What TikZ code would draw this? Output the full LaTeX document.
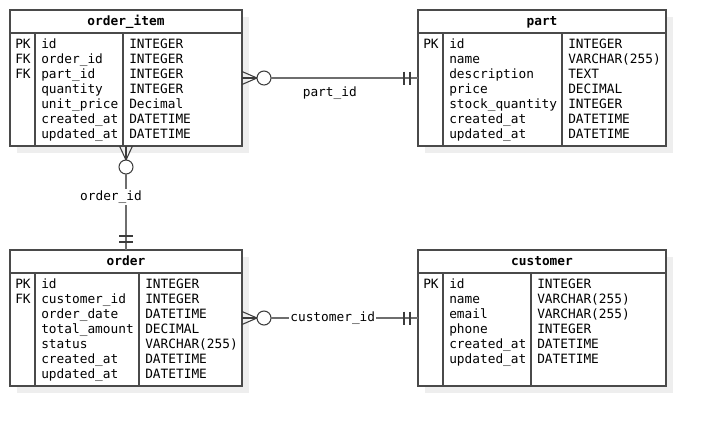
\documentclass[tikz,border=0pt]{standalone}
\usepackage{fontspec}
\setmainfont{DejaVu Sans Mono}
\usetikzlibrary{calc}
\definecolor{bordc}{HTML}{4A4A4A}
\definecolor{relc}{HTML}{6E6E6E}
\definecolor{footc}{HTML}{3C3C3C}
\definecolor{shadc}{HTML}{EEEEEE}
\tikzset{
  ebox/.style={draw=bordc, line width=1.3pt, fill=white, inner sep=0pt, outer sep=0pt, rectangle},
  ebord/.style={draw=bordc, line width=1.3pt},
  ediv/.style={draw=bordc, line width=0.8pt},
  etitle/.style={font=\fontsize{9.6}{12}\selectfont\bfseries, inner sep=0pt, anchor=base},
  etxt/.style={font=\fontsize{9.6}{12}\selectfont, inner sep=0pt, anchor=base west},
  rel/.style={draw=relc, line width=1.1pt},
  foot/.style={draw=footc, line width=0.8pt},
  zcirc/.style={circle, draw=footc, line width=0.8pt, fill=white, minimum size=10.5pt, inner sep=0pt, outer sep=0pt},
  lbl/.style={font=\fontsize{9.6}{12}\selectfont, inner sep=1pt, text=black},
}
\newcommand\erent[6]{%
  \fill[shadc] (#2+7,#3+7) rectangle ++(#4,#5);
  \node[ebox, minimum width=#4*0.75pt, minimum height=#5*0.75pt, anchor=north west] (#1) at (#2,#3) {};
  \draw[ebord] ($(#1.north west)+(0,23)$) -- ($(#1.north east)+(0,23)$);
  \node[etitle] (#1-title) at ($(#1.north)+(0,15)$) {#6};
}
\newcommand\errows[3]{%
  \draw[ediv] ($(#1.north west)+(25,23)$) -- ($(#1.south west)+(25,0)$);
  \draw[ediv] ($(#1.north west)+(#2,23)$) -- ($(#1.south west)+(#2,0)$);
  \foreach \k/\n/\t [count=\i] in {#3} {
    \node[etxt] (#1-k\i) at ($(#1.north west)+(5,23.5+15*\i)$) {\k};
    \node[etxt] (#1-n\i) at ($(#1.north west)+(31,23.5+15*\i)$) {\n};
    \node[etxt] (#1-t\i) at ($(#1.north west)+(#2+6,23.5+15*\i)$) {\t};
  }
}
\begin{document}
\begin{tikzpicture}[x=0.75pt, y=-0.75pt]
\useasboundingbox (0,0) rectangle (706,426);
\fill[white] (0,0) rectangle (706,426);

\erent{oi}{10}{10}{232}{136}{order\_item}
\errows{oi}{113}{PK/id/INTEGER, FK/order\_id/INTEGER, FK/part\_id/INTEGER, {}/quantity/INTEGER, {}/unit\_price/Decimal, {}/created\_at/DATETIME, {}/updated\_at/DATETIME}

\erent{part}{418}{10}{248}{136}{part}
\errows{part}{144}{PK/id/INTEGER, {}/name/VARCHAR(255), {}/description/TEXT, {}/price/DECIMAL, {}/stock\_quantity/INTEGER, {}/created\_at/DATETIME, {}/updated\_at/DATETIME}

\erent{ord}{10}{250}{232}{136}{order}
\errows{ord}{129}{PK/id/INTEGER, FK/customer\_id/INTEGER, {}/order\_date/DATETIME, {}/total\_amount/DECIMAL, {}/status/VARCHAR(255), {}/created\_at/DATETIME, {}/updated\_at/DATETIME}

\erent{cust}{418}{250}{248}{136}{customer}
\errows{cust}{113}{PK/id/INTEGER, {}/name/VARCHAR(255), {}/email/VARCHAR(255), {}/phone/INTEGER, {}/created\_at/DATETIME, {}/updated\_at/DATETIME}

% order_item -> part
\draw[foot] ($(oi.east)+(0,-6.5)$) -- ($(oi.east)+(15,0)$) -- ($(oi.east)+(0,6.5)$);
\draw[foot] (oi.east) -- ($(oi.east)+(15,0)$);
\node[zcirc] (c1) at ($(oi.east)+(22,0)$) {};
\draw[rel] (c1) -- node[lbl, pos=0.4, yshift=-11pt] (l1) {part\_id} (part.west);
\draw[foot] ($(part.west)+(-8,-6.5)$) -- ($(part.west)+(-8,6.5)$);
\draw[foot] ($(part.west)+(-14,-6.5)$) -- ($(part.west)+(-14,6.5)$);

% order_item -> order
\draw[foot] ($(oi.south)+(-6.5,0)$) -- ($(oi.south)+(0,14)$) -- ($(oi.south)+(6.5,0)$);
\draw[foot] (oi.south) -- ($(oi.south)+(0,14)$);
\node[zcirc] (c3) at ($(oi.south)+(0,21)$) {};
\draw[rel] (c3) -- node[lbl, fill=white, pos=0.3, xshift=-11.25pt] (l3) {order\_id} (ord.north);
\draw[foot] ($(ord.north)+(-7,-8)$) -- ($(ord.north)+(7,-8)$);
\draw[foot] ($(ord.north)+(-7,-14)$) -- ($(ord.north)+(7,-14)$);

% order -> customer
\draw[foot] ($(ord.east)+(0,-6.5)$) -- ($(ord.east)+(15,0)$) -- ($(ord.east)+(0,6.5)$);
\draw[foot] (ord.east) -- ($(ord.east)+(15,0)$);
\node[zcirc] (c2) at ($(ord.east)+(22,0)$) {};
\draw[rel] (c2) -- node[lbl, fill=white, pos=0.42] (l2) {customer\_id} (cust.west);
\draw[foot] ($(cust.west)+(-8,-6.5)$) -- ($(cust.west)+(-8,6.5)$);
\draw[foot] ($(cust.west)+(-14,-6.5)$) -- ($(cust.west)+(-14,6.5)$);
\end{tikzpicture}
\end{document}
